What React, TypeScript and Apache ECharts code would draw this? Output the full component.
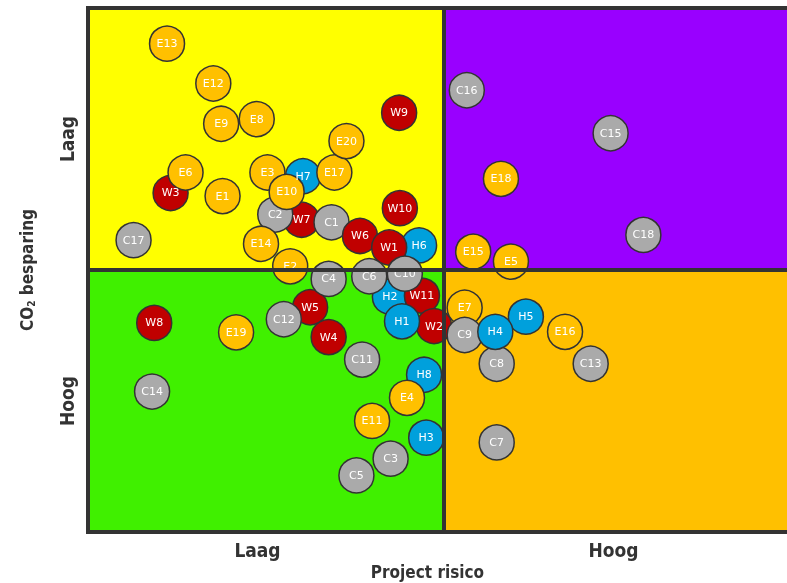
import React, { useEffect, useRef } from "react";
import * as echarts from "echarts";

// Quadrants (x: risk 0-100, y: CO2 besparing score 0-100, top = Laag)
const quadrantColors = ["#FFFF00", "#9900FF", "#40F000", "#FFC000"];
const quadrantX = [[0, 50], [50, 100], [0, 50], [50, 100]];
const quadrantY = [[50, 100], [50, 100], [0, 50], [0, 50]];

const xTickLabels: Record<number, string> = { 25: "Laag", 75: "Hoog" };
const yTickLabels: Record<number, string> = { 75: "Laag", 25: "Hoog" };

// Groups
const groupColors: Record<string, string> = { W: "#C00000", H: "#00A0DC", E: "#FFC000", C: "#AAAAAA" };

const wNames = ["W1", "W2", "W3", "W4", "W5", "W6", "W7", "W8", "W9", "W10", "W11"];
const wX = [42.3, 48.6, 11.6, 33.8, 31.2, 38.2, 30.0, 9.3, 43.7, 43.8, 46.9];
const wY = [54.3, 39.3, 64.7, 37.2, 42.9, 56.5, 59.6, 39.9, 80.0, 61.8, 45.1];

const hNames = ["H1", "H2", "H3", "H4", "H5", "H6", "H7", "H8"];
const hX = [44.1, 42.4, 47.5, 57.2, 61.5, 46.5, 30.2, 47.2];
const hY = [40.2, 44.9, 18.0, 38.2, 41.1, 54.7, 67.9, 30.0];

const eNames = ["E1", "E2", "E3", "E4", "E5", "E6", "E7", "E8", "E9", "E10", "E11", "E12", "E13", "E14", "E15", "E16", "E17", "E18", "E19", "E20"];
const eX = [18.9, 28.4, 25.2, 44.8, 59.4, 13.7, 52.9, 23.7, 18.7, 27.9, 39.9, 17.6, 11.1, 24.3, 54.1, 67.0, 34.6, 58.0, 20.8, 36.3];
const eY = [64.1, 50.7, 68.6, 25.6, 51.6, 68.6, 42.8, 78.8, 77.9, 64.9, 21.2, 85.6, 93.2, 55.0, 53.5, 38.2, 68.6, 67.4, 38.1, 74.6];

const cNames = ["C1", "C2", "C3", "C4", "C5", "C6", "C7", "C8", "C9", "C10", "C11", "C12", "C13", "C14", "C15", "C16", "C17", "C18"];
const cX = [34.2, 26.3, 42.5, 33.8, 37.7, 39.5, 57.4, 57.4, 52.9, 44.5, 38.5, 27.5, 70.6, 9.0, 73.4, 53.2, 6.4, 78.0];
const cY = [59.1, 60.6, 14.0, 48.3, 10.8, 48.8, 17.1, 32.1, 37.6, 49.3, 32.9, 40.6, 32.1, 26.8, 76.1, 84.3, 55.7, 56.7];

// Drawing order (later = on top)
const drawOrder = [
  "H7", "H6", "H2", "H5", "H8", "H3",
  "W3", "W7", "W5", "W4", "W9", "W10", "W8", "W11", "W2",
  "C1", "W6", "W1", "C2", "C6", "C10", "C4", "C12",
  "E7", "C9", "C8", "H4", "H1",
  "E6", "E3", "E10", "E17", "E14", "E2", "E4", "E15", "E5",
  "E1", "E8", "E9", "E12", "E13", "E20", "E11", "E16", "E18", "E19",
  "C3", "C5", "C7", "C11", "C13", "C14", "C15", "C16", "C17", "C18",
];

const FONT = "'DejaVu Sans Condensed', 'DejaVu Sans', sans-serif";

export default function App() {
  const ref = useRef<HTMLDivElement>(null);
  useEffect(() => {
    if (!ref.current) return;
    const chart = echarts.init(ref.current, undefined, { renderer: "svg" });

    const lookup: Record<string, { x: number; y: number; g: string }> = {};
    const add = (names: string[], xs: number[], ys: number[], g: string) =>
      names.forEach((n, i) => (lookup[n] = { x: xs[i], y: ys[i], g }));
    add(wNames, wX, wY, "W");
    add(hNames, hX, hY, "H");
    add(eNames, eX, eY, "E");
    add(cNames, cX, cY, "C");

    const points = drawOrder.map((n) => ({
      name: n,
      value: [lookup[n].x, lookup[n].y],
      itemStyle: { color: groupColors[lookup[n].g] },
    }));

    const quadrants = quadrantColors.map((c, i) => [
      { xAxis: quadrantX[i][0], yAxis: quadrantY[i][0], itemStyle: { color: c } },
      { xAxis: quadrantX[i][1], yAxis: quadrantY[i][1] },
    ]);

    chart.setOption({
      animation: false,
      grid: { left: 88, top: 8, width: 712, height: 524, show: false, outerBoundsMode: "none", containLabel: false },
      xAxis: {
        type: "value",
        min: 0,
        max: 100,
        interval: 25,
        name: "Project risico",
        nameLocation: "middle",
        nameGap: 31,
        nameTextStyle: { fontFamily: FONT, fontWeight: "bold", fontSize: 17, color: "#333", padding: [0, 33, 0, 0] },
        axisLine: { show: false },
        axisTick: { show: false },
        splitLine: { show: false },
        axisLabel: {
          formatter: (v: number) => xTickLabels[v] || "",
          fontFamily: FONT,
          fontWeight: "bold",
          fontSize: 19,
          color: "#333",
          margin: 8,
          padding: [0, 17, 0, 0],
        },
      },
      yAxis: {
        type: "value",
        min: 0,
        max: 100,
        interval: 25,
        name: "CO{sub|2} besparing",
        nameLocation: "middle",
        nameRotate: 90,
        nameGap: 52,
        nameTextStyle: {
          fontFamily: FONT,
          fontWeight: "bold",
          fontSize: 17,
          color: "#333",
          rich: {
            sub: { fontFamily: FONT, fontWeight: "bold", fontSize: 10, color: "#333", verticalAlign: "bottom", padding: [8, 0, 0, 0] },
          },
        },
        axisLine: { show: false },
        axisTick: { show: false },
        splitLine: { show: false },
        axisLabel: {
          formatter: (v: number) => yTickLabels[v] || "",
          rotate: 90,
          fontFamily: FONT,
          fontWeight: "bold",
          fontSize: 19,
          color: "#333",
          margin: 12,
        },
      },
      series: [
        {
          type: "scatter",
          z: 1,
          silent: true,
          data: [],
          markArea: { silent: true, itemStyle: { opacity: 1 }, data: quadrants },
        },
        {
          type: "scatter",
          z: 2,
          silent: true,
          data: [],
          markArea: {
            silent: true,
            itemStyle: { color: "rgba(0,0,0,0)", borderColor: "#333", borderWidth: 4 },
            data: [[{ xAxis: 0, yAxis: 0 }, { xAxis: 100, yAxis: 100 }]],
          },
          markLine: {
            silent: true,
            symbol: ["none", "none"],
            label: { show: false },
            lineStyle: { color: "#333", width: 4, type: "solid" },
            data: [{ xAxis: 50 }, { yAxis: 50 }],
          },
        },
        {
          type: "scatter",
          z: 3,
          symbolSize: 35,
          itemStyle: { borderColor: "#333", borderWidth: 1.5, opacity: 1 },
          label: {
            show: true,
            position: "inside",
            formatter: (p: any) => p.name,
            color: "#fff",
            fontFamily: "'DejaVu Sans', sans-serif",
            fontSize: 11,
          },
          data: points,
        },
      ],
    });
    return () => chart.dispose();
  }, []);
  return <div ref={ref} style={{ position: "fixed", left: 0, top: 0, width: 787, height: 583 }} />;
}
